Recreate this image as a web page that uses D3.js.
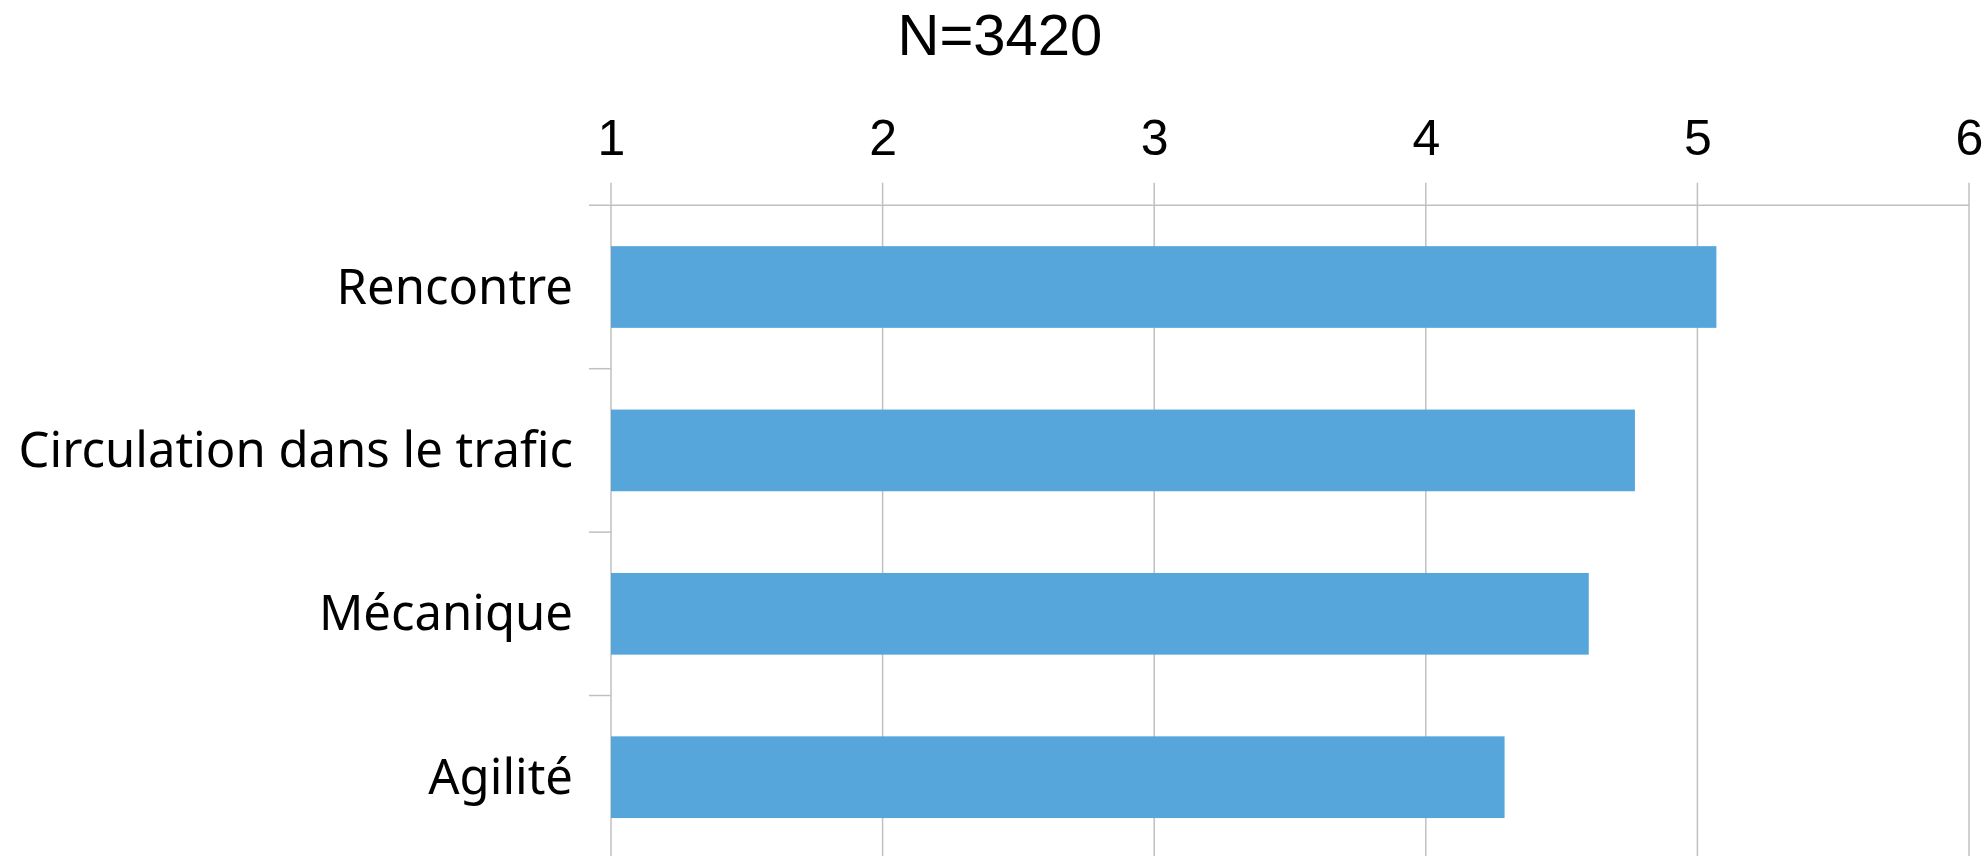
<!DOCTYPE html>
<html>
<head>
<meta charset="utf-8">
<script src="https://cdn.jsdelivr.net/npm/d3@7"></script>
<style>
  body { margin: 0; background: #fff; }
</style>
</head>
<body>
<svg id="chart" width="1986" height="856"></svg>
<script>
// data
const title = "N=3420";
const categories = ["Rencontre", "Circulation dans le trafic", "Mécanique", "Agilité"];
const values = [5.07, 4.77, 4.6, 4.29];
const tickValues = [1, 2, 3, 4, 5, 6];

const svg = d3.select("#chart");
const margin = { top: 205.3, left: 611, right: 17 };
const W = +svg.attr("width");

const x = d3.scaleLinear().domain([1, 6]).range([margin.left, W - margin.right]);
const y = d3
  .scaleBand()
  .domain(categories)
  .range([margin.top, margin.top + 163.4 * 4])
  .paddingInner(0.5)
  .paddingOuter(0.25);

const gridColor = "#c0c0c0";

// vertical grid lines (they also make the tick marks above the axis)
svg
  .append("g")
  .selectAll("line")
  .data(tickValues)
  .enter()
  .append("line")
  .attr("x1", (d) => x(d))
  .attr("x2", (d) => x(d))
  .attr("y1", margin.top - 22.6)
  .attr("y2", 900)
  .attr("stroke", gridColor)
  .attr("stroke-width", 1.5);

// top axis line
svg
  .append("line")
  .attr("x1", margin.left - 22)
  .attr("x2", x(6))
  .attr("y1", margin.top)
  .attr("y2", margin.top)
  .attr("stroke", gridColor)
  .attr("stroke-width", 1.5);

// category separators left of the axis
const step = y.step();
svg
  .append("g")
  .selectAll("line")
  .data(d3.range(1, categories.length))
  .enter()
  .append("line")
  .attr("x1", margin.left - 22)
  .attr("x2", margin.left)
  .attr("y1", (i) => margin.top + i * step)
  .attr("y2", (i) => margin.top + i * step)
  .attr("stroke", gridColor)
  .attr("stroke-width", 1.5);

// bars
svg
  .append("g")
  .selectAll("rect")
  .data(values)
  .enter()
  .append("rect")
  .attr("x", x(1))
  .attr("y", (d, i) => y(categories[i]))
  .attr("width", (d) => x(d) - x(1))
  .attr("height", y.bandwidth())
  .attr("fill", "#57a6db");

// top tick labels
const xAxis = d3.axisTop(x).tickValues(tickValues).tickSize(0).tickPadding(0).tickFormat(d3.format("d"));
const gx = svg.append("g").attr("transform", `translate(0,155.3)`).call(xAxis);
gx.select(".domain").remove();
gx.selectAll("text")
  .attr("dy", 0)
  .attr("font-family", "'Liberation Sans', Arial, sans-serif")
  .attr("font-size", 50)
  .attr("fill", "#000");

// category labels
svg
  .append("g")
  .selectAll("text")
  .data(categories)
  .enter()
  .append("text")
  .attr("x", margin.left - 38)
  .attr("y", (d) => y(d) + y.bandwidth() / 2)
  .attr("dy", "0.34em")
  .attr("text-anchor", "end")
  .attr("font-family", "'Noto Sans', sans-serif")
  .attr("font-size", 49)
  .attr("fill", "#000")
  .text((d) => d);

// title
svg
  .append("text")
  .attr("x", 1000)
  .attr("y", 55)
  .attr("text-anchor", "middle")
  .attr("font-family", "'Liberation Sans', Arial, sans-serif")
  .attr("font-size", 58)
  .attr("fill", "#000")
  .text(title);
</script>
</body>
</html>
